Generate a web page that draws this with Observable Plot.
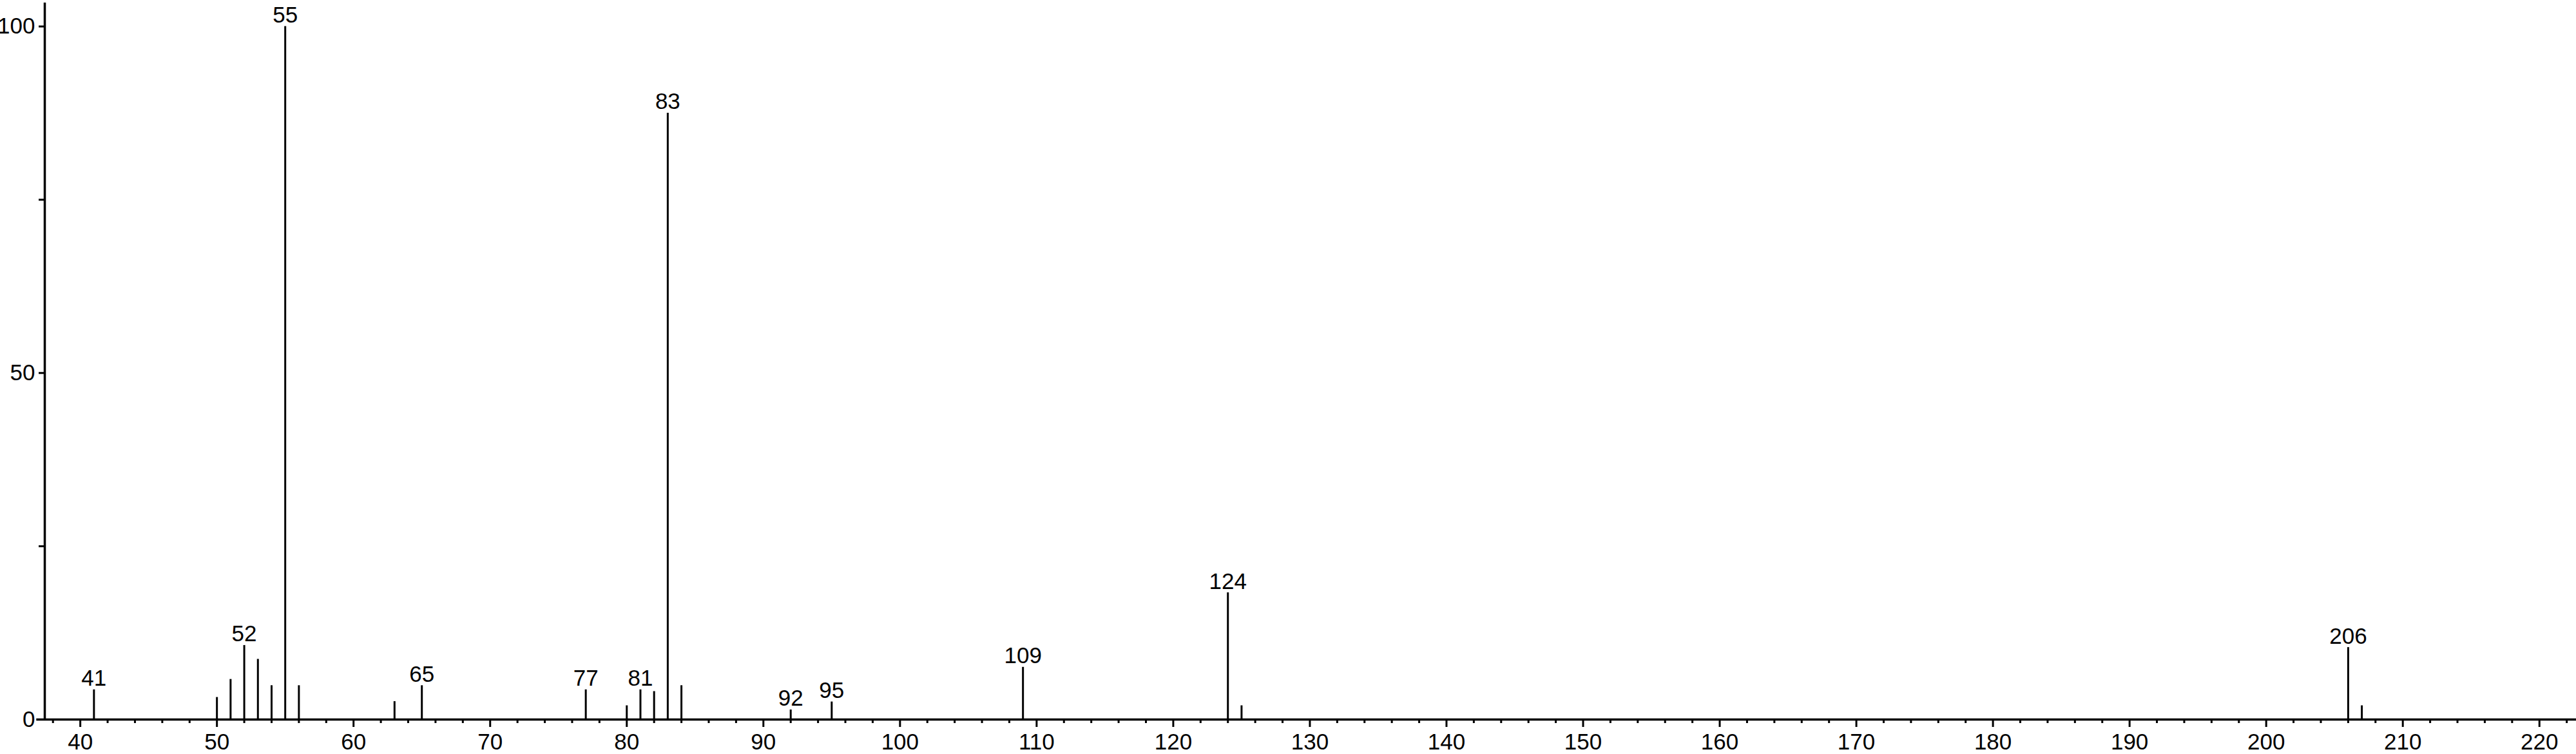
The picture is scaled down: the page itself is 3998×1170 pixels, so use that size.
<!DOCTYPE html>
<html>
<head>
<meta charset="utf-8">
<script src="https://cdn.jsdelivr.net/npm/d3@7"></script>
<script src="https://cdn.jsdelivr.net/npm/@observablehq/plot@0.6"></script>
<style>
  html, body { margin: 0; padding: 0; background: #fff; }
  #chart { width: 3998px; height: 1170px; }
</style>
</head>
<body>
<div id="chart"></div>
<script>
// m/z values of the peaks
const mz = [41, 50, 51, 52, 53, 54, 55, 56, 63, 65, 77, 80, 81, 82, 83, 84, 92, 95, 109, 124, 125, 206, 207];
// relative intensities (%)
const intensity = [4.3, 3.2, 5.8, 10.7, 8.7, 4.9, 100, 4.9, 2.6, 4.9, 4.3, 2.0, 4.3, 4.05, 87.5, 4.9, 1.4, 2.55, 7.55, 18.3, 2.0, 10.4, 2.0];
// peaks that carry a label
const labeledMz = [41, 52, 55, 65, 77, 81, 83, 92, 95, 109, 124, 206];

// axis ticks
const xMajorTicks = [40, 50, 60, 70, 80, 90, 100, 110, 120, 130, 140, 150, 160, 170, 180, 190, 200, 210, 220];
const xMinorTicks = [38, 42, 44, 46, 48, 52, 54, 56, 58, 62, 64, 66, 68, 72, 74, 76, 78, 82, 84, 86, 88,
  92, 94, 96, 98, 102, 104, 106, 108, 112, 114, 116, 118, 122, 124, 126, 128, 132, 134, 136, 138,
  142, 144, 146, 148, 152, 154, 156, 158, 162, 164, 166, 168, 172, 174, 176, 178, 182, 184, 186, 188,
  192, 194, 196, 198, 202, 204, 206, 208, 212, 214, 216, 218, 222];
const yMajorTicks = [0, 50, 100];
const yMinorTicks = [25, 75];

const xDomain = [37.4, 222.7];
const yDomain = [0, 103.4];

const peaks = mz.map((m, i) => ({mz: m, intensity: intensity[i]}));
const labels = peaks.filter(d => labeledMz.includes(d.mz));

const font = "'Liberation Sans', Arial, Helvetica, sans-serif";

const chart = Plot.plot({
  width: 3998,
  height: 1170,
  marginLeft: 69,
  marginRight: 0,
  marginTop: 4,
  marginBottom: 54,
  x: {domain: xDomain},
  y: {domain: yDomain},
  style: {fontFamily: font, fontSize: "35px", color: "black", background: "white", overflow: "visible"},
  marks: [
    Plot.axisX({ticks: xMinorTicks, tickSize: 6, strokeWidth: 3, tickFormat: () => "", label: null}),
    Plot.axisX({ticks: xMajorTicks, tickSize: 12, tickPadding: 10, strokeWidth: 3, fontSize: 35, label: null}),
    Plot.axisY({ticks: yMinorTicks, tickSize: 9, strokeWidth: 3, tickFormat: () => "", label: null}),
    Plot.axisY({ticks: yMajorTicks, tickSize: 9, tickPadding: 6, strokeWidth: 3, fontSize: 35, label: null}),
    Plot.ruleY([0], {x1: 36.8, x2: xDomain[1], stroke: "black", strokeWidth: 3.5}),
    Plot.ruleX([xDomain[0]], {y1: 0, y2: yDomain[1], stroke: "black", strokeWidth: 3.5}),
    Plot.ruleX(peaks, {x: "mz", y1: 0, y2: "intensity", stroke: "black", strokeWidth: 3}),
    Plot.text(labels, {x: "mz", y: "intensity", text: d => String(d.mz), lineAnchor: "bottom", dy: -6, fontSize: 35, fill: "black"})
  ]
});

document.getElementById("chart").appendChild(chart);
</script>
</body>
</html>
